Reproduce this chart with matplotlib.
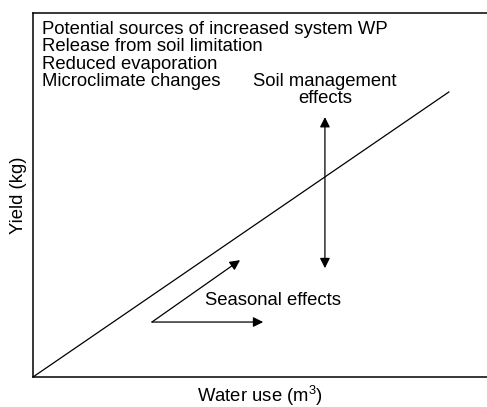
import matplotlib
matplotlib.use("Agg")
import matplotlib.pyplot as plt

plt.rcParams['font.family'] = ['Liberation Sans', 'DejaVu Sans']
plt.rcParams['mathtext.fontset'] = 'custom'
plt.rcParams['mathtext.rm'] = 'Liberation Sans'

# ---------------- DATA ----------------
wp_line_x = [0, 91.6]
wp_line_y = [0, 78.3]

soil_arrow_x = 64.3
soil_arrow_y = [29.9, 71.4]

season_start = (26.2, 15.1)
season_diag_end = (45.6, 32.1)
season_horiz_end = (50.7, 15.1)

source_lines = ["Potential sources of increased system WP",
                "Release from soil limitation",
                "Reduced evaporation",
                "Microclimate changes"]
source_y = [95.5, 90.7, 85.9, 81.1]

FS = 13.3

# ---------------- PLOT ----------------
fig = plt.figure(figsize=(4.87, 4.07), dpi=100)
ax = fig.add_axes([33 / 487, 30 / 407, 454 / 487, 364 / 407])
ax.set_xlim(0, 100)
ax.set_ylim(0, 100)
ax.set_xticks([])
ax.set_yticks([])
ax.spines['right'].set_visible(False)
for s in ['left', 'top', 'bottom']:
    ax.spines[s].set_linewidth(1.1)

ax.plot(wp_line_x, wp_line_y, color='black', lw=0.9)

arrow = dict(arrowstyle='-|>', color='black', lw=0.9, mutation_scale=15,
             shrinkA=0, shrinkB=0)
ax.annotate('', xy=(soil_arrow_x, soil_arrow_y[1]), xytext=(soil_arrow_x, soil_arrow_y[0]),
            arrowprops=dict(arrow, arrowstyle='<|-|>'))
ax.annotate('', xy=season_diag_end, xytext=season_start, arrowprops=arrow)
ax.annotate('', xy=season_horiz_end, xytext=season_start, arrowprops=arrow)

for txt, y in zip(source_lines, source_y):
    ax.text(2.0, y, txt, fontsize=FS, va='center', ha='left')
ax.text(64.3, 78.8, "Soil management\neffects", fontsize=FS, ha='center',
        va='center', linespacing=1.0)
ax.text(52.9, 21.0, "Seasonal effects", fontsize=FS, ha='center', va='center')

ax.set_xlabel(r"Water use (m$^3$)", fontsize=FS, labelpad=5)
ax.set_ylabel("Yield (kg)", fontsize=FS, labelpad=4)

fig.savefig("out.png", dpi=100)
